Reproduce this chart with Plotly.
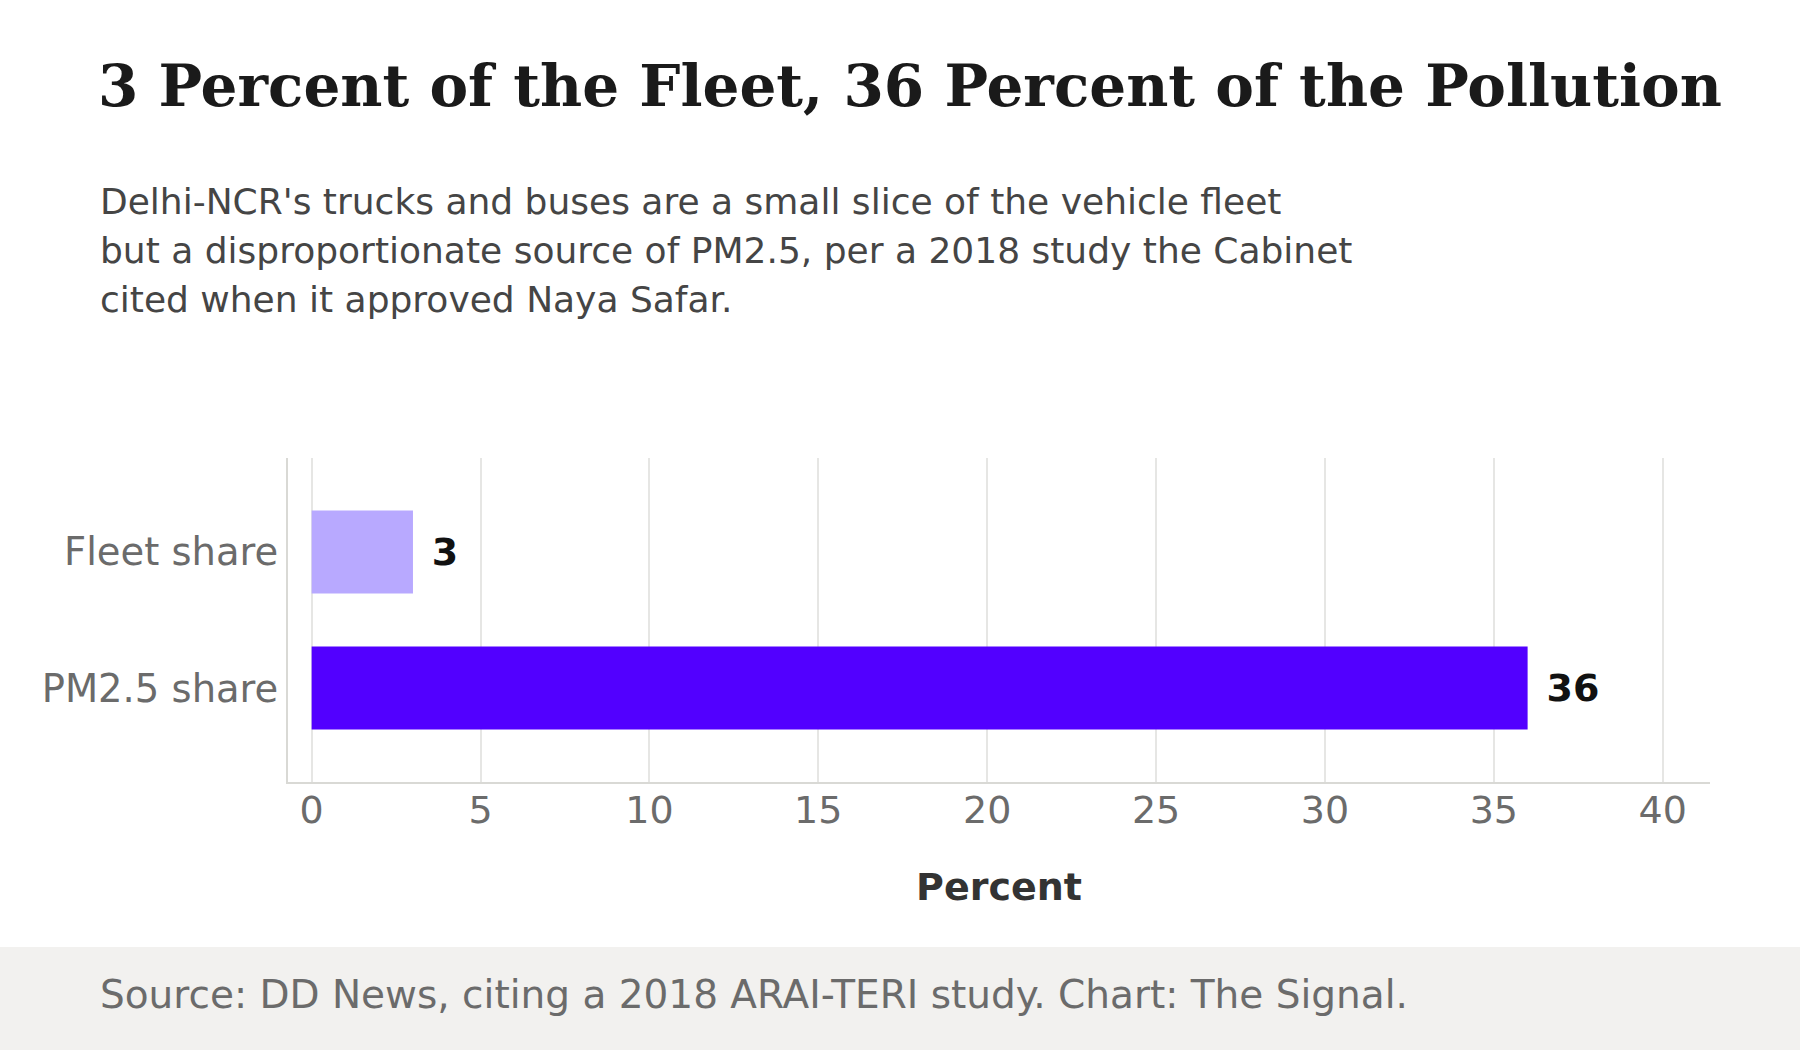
import plotly.graph_objects as go

categories = ["PM2.5 share", "Fleet share"]
values = [36, 3]
bar_colors = ["#5200ff", "#b8a9ff"]
x_ticks = [0, 5, 10, 15, 20, 25, 30, 35, 40]

title = "3 Percent of the Fleet, 36 Percent of the Pollution"
subtitle_lines = [
    "Delhi-NCR's trucks and buses are a small slice of the vehicle fleet",
    "but a disproportionate source of PM2.5, per a 2018 study the Cabinet",
    "cited when it approved Naya Safar.",
]
source = "Source: DD News, citing a 2018 ARAI-TERI study. Chart: The Signal."

W, H = 1800, 1050
ML, MR, MT, MB = 288, 90, 458, 268
pw = W - ML - MR
ph = H - MT - MB

def px(x):
    return (x - ML) / pw

def py(y):
    return (H - MB - y) / ph

fig = go.Figure(go.Bar(
    y=categories,
    x=values,
    orientation="h",
    marker=dict(color=bar_colors, line=dict(width=0)),
    width=0.61,
    text=[f" \u200a<b>{v}</b>" for v in values],
    textposition="outside",
    textfont=dict(family="DejaVu Sans", size=38, color="#111111"),
    cliponaxis=False,
    hoverinfo="skip",
))

annotations = []
for i, line in enumerate(subtitle_lines):
    annotations.append(dict(
        text=line, xref="paper", yref="paper",
        x=px(98), y=py(201 + 49 * i), xanchor="left", yanchor="middle",
        align="left", showarrow=False,
        font=dict(family="DejaVu Sans", size=36, color="#454545"),
    ))
annotations.append(dict(
    text=source, xref="paper", yref="paper",
    x=px(98), y=py(994), xanchor="left", yanchor="middle",
    align="left", showarrow=False,
    font=dict(family="DejaVu Sans", size=39, color="#6b6b6b"),
))

fig.update_layout(
    width=W, height=H,
    margin=dict(l=ML, r=MR, t=MT, b=MB),
    paper_bgcolor="white",
    plot_bgcolor="white",
    showlegend=False,
    font=dict(family="DejaVu Sans", color="#666666"),
    title=dict(
        text=f"<b>{title}</b>",
        font=dict(family="DejaVu Serif", size=58, color="#1a1a1a"),
        xref="container", x=98 / W, xanchor="left",
        yref="container", y=1 - 86 / H, yanchor="middle",
    ),
    xaxis=dict(
        range=[-0.7, 41.4],
        tickvals=x_ticks,
        ticktext=[str(t) for t in x_ticks],
        tickfont=dict(size=38, color="#6b6b6b"),
        showgrid=True, gridcolor="#e6e6e4", gridwidth=1.5,
        zeroline=False,
        showline=True, linecolor="#d9d9d5", linewidth=2,
        ticks="", ticklabelstandoff=-7,
        title=dict(text="<b>Percent</b>", font=dict(size=38, color="#333333"), standoff=43),
        fixedrange=True,
    ),
    yaxis=dict(
        range=[-0.69, 1.69],
        tickfont=dict(size=38.5, color="#6b6b6b"),
        showgrid=False, zeroline=False,
        showline=True, linecolor="#d9d9d5", linewidth=2,
        ticks="",
        fixedrange=True,
    ),
    shapes=[dict(
        type="rect", xref="paper", yref="paper",
        x0=px(-10), x1=px(W + 10), y0=py(947), y1=py(H + 10),
        fillcolor="#f2f1ef", line=dict(width=0), layer="below",
    )],
    annotations=annotations,
)

fig.write_html("out.html")
